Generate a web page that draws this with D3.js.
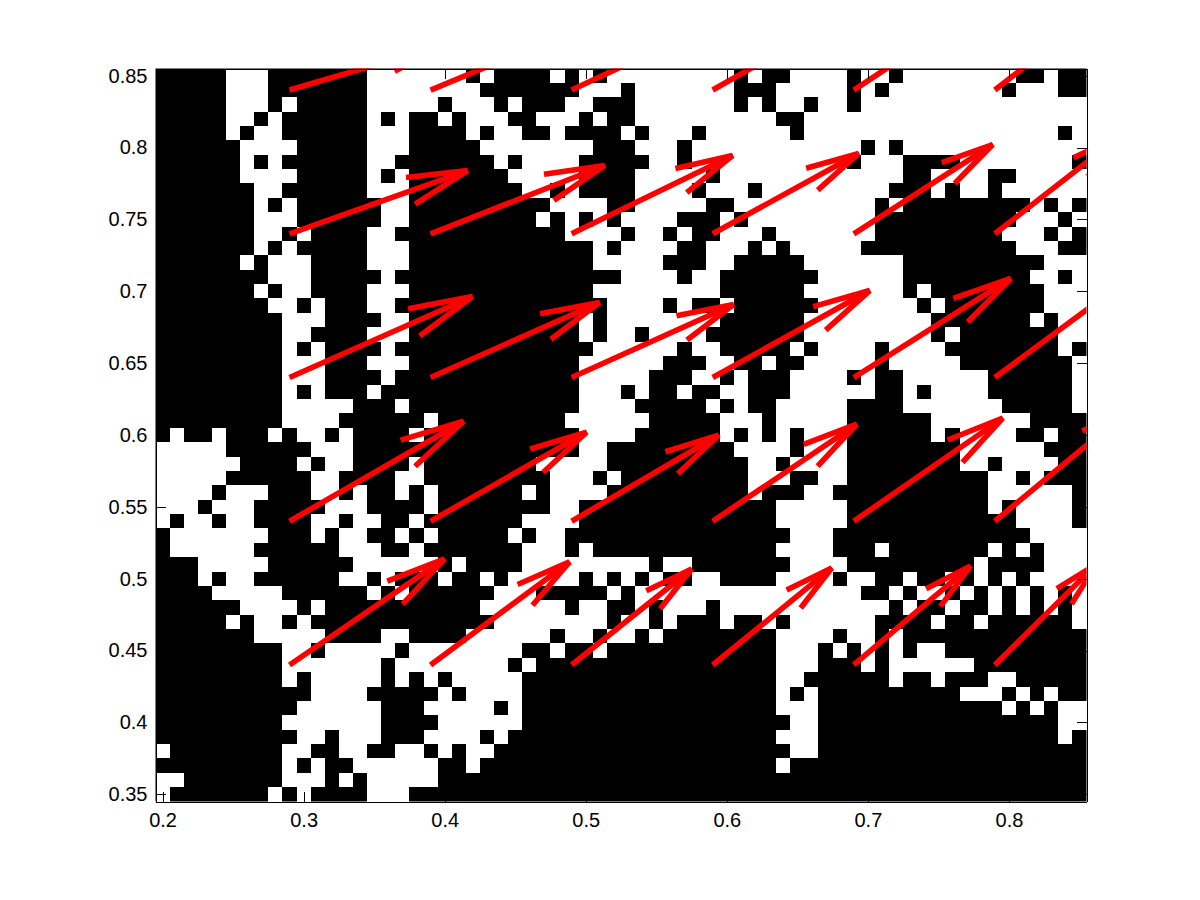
<!DOCTYPE html>
<html><head><meta charset="utf-8">
<style>html,body{margin:0;padding:0;background:#fff}svg{display:block}
text{font-family:"Liberation Sans",Arial,sans-serif;font-size:20px;fill:#000}</style>
<script src="https://cdnjs.cloudflare.com/ajax/libs/d3/7.8.5/d3.min.js"></script>
</head><body><svg id="c" width="1200" height="900"></svg>
<script>
// Row centres run 0.85 -> 0.35 (top to bottom); column centres 0.20 -> 0.85.
// Each row lists inclusive column runs of white cells; everything else is black.
const whiteRuns = [
"5-7 15-21 23 28 30 32-40 42 45-48 50-51 53-60 63",
"5-7 15-22 30-32 34-40 44-48 50 52-59 61-63",
"5-7 9 15-19 21-23 25 29-30 34-40 42 44-45 47-48 50-65",
"5-6 8 15 17 20 22-24 27-29 31 34-43 46-65",
"5 7-8 15-17 22 24-25 28 33 35-37 39-44 46-63 65",
"6-9 15-17 23-30 34-36 38-49 51 53-65",
"6 8 15-16 24 26-29 35-36 38-48 50-52 57-64",
"6-9 15 17 25-29 34-38 40-52 55-58 61-65",
"7-8 15-17 26-27 29 34-37 39-41 43-51 55 57-58 60-65",
"7 9 16-17 28-31 34-38 41-50 52 62 64",
"7-9 16-17 27 29 31 33-36 40 42-50 61-63 65",
"7-8 10 15-16 29-32 34-35 37 40-42 44-50 60-62 64",
"7 9 15-17 31 33-36 39-41 43 45-49 61-63",
"6 8-10 15-17 31-35 39-40 46-52 63-65",
"8-10 16 33-36 38-39 47-52 62-63 65",
"7 9-10 15-17 31-39 46-52 54 63-65",
"8-9 11 15-16 32-35 37 40 47-53 55 63-65",
"9-11 16-17 30 32-39 46-54 62 64-65",
"9-10 15-17 30 32-33 35-38 46-54 56 64-65",
"9 11 16 31-36 38-39 45 47-50 52-55 64",
"9-11 15-17 30-35 39-40 43 46-50 52-56 65",
"9-11 16 30-34 38-39 41 45-48 50 53-58 65",
"9 11 15 30-32 34 37 40-41 45-50 53 55-58 65",
"9-13 17 30-33 39 41 44-48 53-59 65",
"9-12 19 29-34 40-42 44-48 55-61",
"1 4 8 10-11 13 18 30-33 40 42 44 46-48 55 57-60 63",
"0-4 11-13 30-31 41-44 46-48 57-62",
"0-5 10 12-13 18 27-31 42-43 45-48 57-58 60-63",
"0-4 11-12 17-18 28-30 32 42-44 47-48 59-60 62",
"0-3 5-7 11-12 14 17 19 26 28-31 42 46-47 59-64",
"0-2 4-6 12-14 19 28-29 44-48 59 61-64",
"0 2-3 5-6 11-12 14-15 18 26-29 44-48 61-64",
"1-7 11 13-14 17 19 25 27-28 45-47 62-65",
"1-6 13-15 18 26-28 30 44-47 51 59 61 63-65",
"3-7 14-19 21 26-34 36-37 45-48 58 63-65",
"3 5-6 13-14 16 20 23 25-29 31 33 35 38-39 44-47 49-50 53 56 58 60 62-65",
"4-8 15 17 24-26 32 34-49 52 54-55 57 59 61 63 65",
"6-9 11 23-28 30-31 34 36-38 40-51 53 56 59 61 63 65",
"5 7-8 10 24-31 33-34 36 40 43 45-50 55 58 65",
"7-11 16-17 22-27 29-30 32-33 35 44-47 49-50 52",
"9-10 12-16 18-25 28 31 44-46 48 50 52 54-55",
"9-15 17-24 26 44-46 50 52-57",
"9 11-15 17 19 21-25 44-45 52 55 59-60",
"11-14 20 22-25 44 46 57-59 61 63",
"10-15 19-23 25 44-46 60 62 64-65",
"9-15 20-25 45-46 64-65",
"10-11 13-15 19-22 24 44-46 64",
"0 9-10 13-14 17-18 20 22-23 45-46",
"9 11 14-19 22 44",
"0-1 9-11 13 15-19",
"0 8 10 15-17"
];
const quiverX = [0.29,0.39,0.49,0.59,0.69,0.79];
const quiverY = [0.84,0.74,0.64,0.54,0.44];
const quiverU = [
 [.1063,.0993,.0922,.0886,.0851,.0780],
 [.1262,.1234,.1141,.1035,.0985,.0893],
 [.1297,.1198,.1148,.1113,.1113,.1106],
 [.1234,.1106,.1042,.1021,.1056,.1000],
 [.1099,.0985,.0851,.0844,.0829,.0723]];
const quiverV = [
 [.0306,.0404,.0424,.0494,.0550,.0598],
 [.0440,.0475,.0545,.0559,.0621,.0682],
 [.0564,.0522,.0508,.0605,.0689,.0800],
 [.0696,.0619,.0598,.0675,.0717,.0814],
 [.0738,.0717,.0668,.0675,.0689,.0703]];
const xTicks=[0.2,0.3,0.4,0.5,0.6,0.7,0.8];
const yTicks=[0.35,0.4,0.45,0.5,0.55,0.6,0.65,0.7,0.75,0.8,0.85];

const L=155.5,R=1086.5,T=68.5,B=801.5;
const x=d3.scaleLinear().domain([0.195,0.855]).range([L,R]);
const y=d3.scaleLinear().domain([0.345,0.855]).range([B,T]);
const svg=d3.select("#c");
svg.append("defs").append("clipPath").attr("id","ax").append("rect")
  .attr("x",L).attr("y",T).attr("width",R-L).attr("height",B-T);

const cells=[];
whiteRuns.forEach((s,r)=>s.split(" ").forEach(run=>{
  const [a,b]=run.split("-").map(Number);
  d3.range(a,(b===undefined?a:b)+1).forEach(c=>cells.push({c,r}));
}));
svg.append("rect").attr("x",L).attr("y",T).attr("width",R-L).attr("height",B-T).attr("fill","#000");
svg.append("g").attr("shape-rendering","crispEdges").selectAll("rect").data(cells).join("rect")
  .attr("x",d=>x(0.195+d.c*0.01)).attr("width",d=>x(0.205+d.c*0.01)-x(0.195+d.c*0.01))
  .attr("y",d=>y(0.855-d.r*0.01)).attr("height",d=>y(0.845-d.r*0.01)-y(0.855-d.r*0.01))
  .attr("fill","#fff");

const alpha=0.32,beta=0.23;
const arrows=[];
quiverY.forEach((qy,j)=>quiverX.forEach((qx,i)=>{
  arrows.push({qx,qy,u:quiverU[j][i],v:quiverV[j][i]});
}));
const line=d3.line().x(p=>x(p[0])).y(p=>y(p[1]));
const q=svg.append("g").attr("clip-path","url(#ax)").attr("fill","none").attr("stroke","#f00")
  .attr("stroke-width",5.6).attr("stroke-linejoin","miter");
q.selectAll("path.s").data(arrows).join("path").attr("class","s")
  .attr("d",d=>line([[d.qx,d.qy],[d.qx+d.u,d.qy+d.v]]));
q.selectAll("path.h").data(arrows).join("path").attr("class","h")
  .attr("d",d=>{
    const tx=d.qx+d.u,ty=d.qy+d.v;
    return line([
      [tx-alpha*(d.u+beta*d.v),ty-alpha*(d.v-beta*d.u)],
      [tx,ty],
      [tx-alpha*(d.u-beta*d.v),ty-alpha*(d.v+beta*d.u)]]);
  });

const tl=10;
const fmt=d3.format("");
const ax=(g,a)=>{g.call(a);g.select(".domain").attr("stroke","#000").attr("stroke-width",1);
  g.selectAll("line").attr("stroke","#000").attr("stroke-width",1);
  g.attr("shape-rendering","crispEdges");};
svg.append("g").attr("transform",`translate(0,${B})`)
  .call(g=>ax(g,d3.axisBottom(x).tickValues(xTicks).tickSizeInner(-tl).tickSizeOuter(0).tickPadding(11).tickFormat(fmt)))
  .attr("font-size",null).attr("font-family",null);
svg.append("g").attr("transform",`translate(${L},0)`)
  .call(g=>ax(g,d3.axisLeft(y).tickValues(yTicks).tickSizeInner(-tl).tickSizeOuter(0).tickPadding(8).tickFormat(fmt)))
  .attr("font-size",null).attr("font-family",null);
svg.append("g").attr("transform",`translate(0,${T})`)
  .call(g=>ax(g,d3.axisTop(x).tickValues(xTicks).tickSizeInner(-tl).tickSizeOuter(0).tickFormat("")));
svg.append("g").attr("transform",`translate(${R},0)`)
  .call(g=>ax(g,d3.axisRight(y).tickValues(yTicks).tickSizeInner(-tl).tickSizeOuter(0).tickFormat("")));
</script></body></html>
